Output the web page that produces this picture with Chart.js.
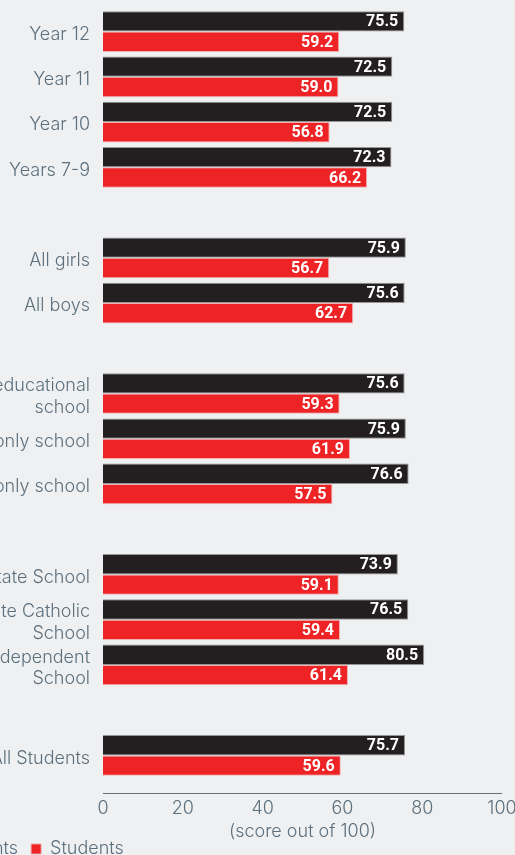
<!DOCTYPE html>
<html>
<head>
<meta charset="utf-8">
<script src="https://cdn.jsdelivr.net/npm/chart.js@4/dist/chart.umd.min.js"></script>
<style>
  html, body { margin: 0; padding: 0; background: #eff0f2; overflow: hidden; }
  #wrap { position: absolute; left: -442px; top: 0; width: 957px; height: 868px; }
</style>
</head>
<body>
<div id="wrap"><canvas id="scoreChart"></canvas></div>
<script>
// groups are separated by an empty category
const categories = [
    'Year 12', 'Year 11', 'Year 10', 'Years 7-9', '',
    'All girls', 'All boys', '',
    ['Co-educational', 'school'], 'Girls only school', 'Boys only school', '',
    'State School', ['Private Catholic', 'School'], ['Private Independent', 'School'], '',
    'All Students'
];
const parents  = [75.5, 72.5, 72.5, 72.3, null, 75.9, 75.6, null, 75.6, 75.9, 76.6, null, 73.9, 76.5, 80.5, null, 75.7];
const students = [59.2, 59.0, 56.8, 66.2, null, 56.7, 62.7, null, 59.3, 61.9, 57.5, null, 59.1, 59.4, 61.4, null, 59.6];
const xTicks = [0, 20, 40, 60, 80, 100];

const slate = '#5b6f7d';
const labelFont = { family: 'Inter, "Open Sans", sans-serif', size: 18, weight: 300 };

// white value labels at the end of each bar
const barValues = {
    id: 'barValues',
    afterDatasetsDraw(chart) {
        const ctx = chart.ctx;
        ctx.save();
        ctx.font = 'bold 16px Roboto, "Liberation Sans", sans-serif';
        ctx.fillStyle = '#ffffff';
        ctx.textAlign = 'right';
        ctx.textBaseline = 'middle';
        chart.data.datasets.forEach((ds, i) => {
            chart.getDatasetMeta(i).data.forEach((bar, j) => {
                if (ds.data[j] == null) return;
                ctx.fillText(ds.data[j].toFixed(1), bar.x - 6, bar.y + 1);
            });
        });
        ctx.restore();
    }
};

// x axis rule sits a little below the last bar
const axisRule = {
    id: 'axisRule',
    afterDraw(chart) {
        const x = chart.scales.x;
        const y = Math.round(chart.chartArea.bottom + 15);
        const ctx = chart.ctx;
        ctx.save();
        ctx.strokeStyle = '#6e6e6e';
        ctx.lineWidth = 1;
        ctx.beginPath();
        ctx.moveTo(x.left, y + 0.5);
        ctx.lineTo(x.right, y + 0.5);
        ctx.stroke();
        ctx.restore();
    }
};

new Chart(document.getElementById('scoreChart'), {
    type: 'bar',
    data: {
        labels: categories,
        datasets: [{
            label: 'Parents',
            data: parents,
            backgroundColor: '#231f20',
            borderColor: 'rgba(140,140,140,0.9)',
            borderWidth: 1
        }, {
            label: 'Students',
            data: students,
            backgroundColor: '#ee2326',
            borderColor: 'rgba(240,170,170,0.9)',
            borderWidth: 1
        }]
    },
    options: {
        indexAxis: 'y',
        responsive: true,
        maintainAspectRatio: false,
        animation: false,
        layout: { padding: { top: 9, right: 13, bottom: 0, left: 0 } },
        datasets: { bar: { categoryPercentage: 0.9, barPercentage: 1.0 } },
        scales: {
            x: {
                min: 0,
                max: 100,
                afterBuildTicks: scale => { scale.ticks = xTicks.map(v => ({ value: v })); },
                afterFit: scale => {
                    scale.height = 49;
                    scale.paddingLeft = 0;
                    scale.paddingRight = 0;
                },
                grid: { display: false, drawTicks: false },
                border: { display: false },
                ticks: { color: slate, font: labelFont, padding: 20 },
                title: {
                    display: true,
                    text: '(score out of 100)',
                    color: slate,
                    font: labelFont,
                    padding: { top: 0, bottom: -15 }
                }
            },
            y: {
                afterFit: scale => {
                    scale.width = 545;
                    scale.paddingTop = 0;
                    scale.paddingBottom = 0;
                },
                grid: { display: false, drawTicks: false },
                border: { display: false },
                ticks: { color: slate, font: labelFont, padding: 13, labelOffset: 3, autoSkip: false }
            }
        },
        plugins: {
            legend: {
                position: 'bottom',
                labels: {
                    boxWidth: 10,
                    boxHeight: 10,
                    padding: 13,
                    color: slate,
                    font: labelFont
                }
            },
            tooltip: { enabled: false }
        }
    },
    plugins: [barValues, axisRule]
});
</script>
</body>
</html>
